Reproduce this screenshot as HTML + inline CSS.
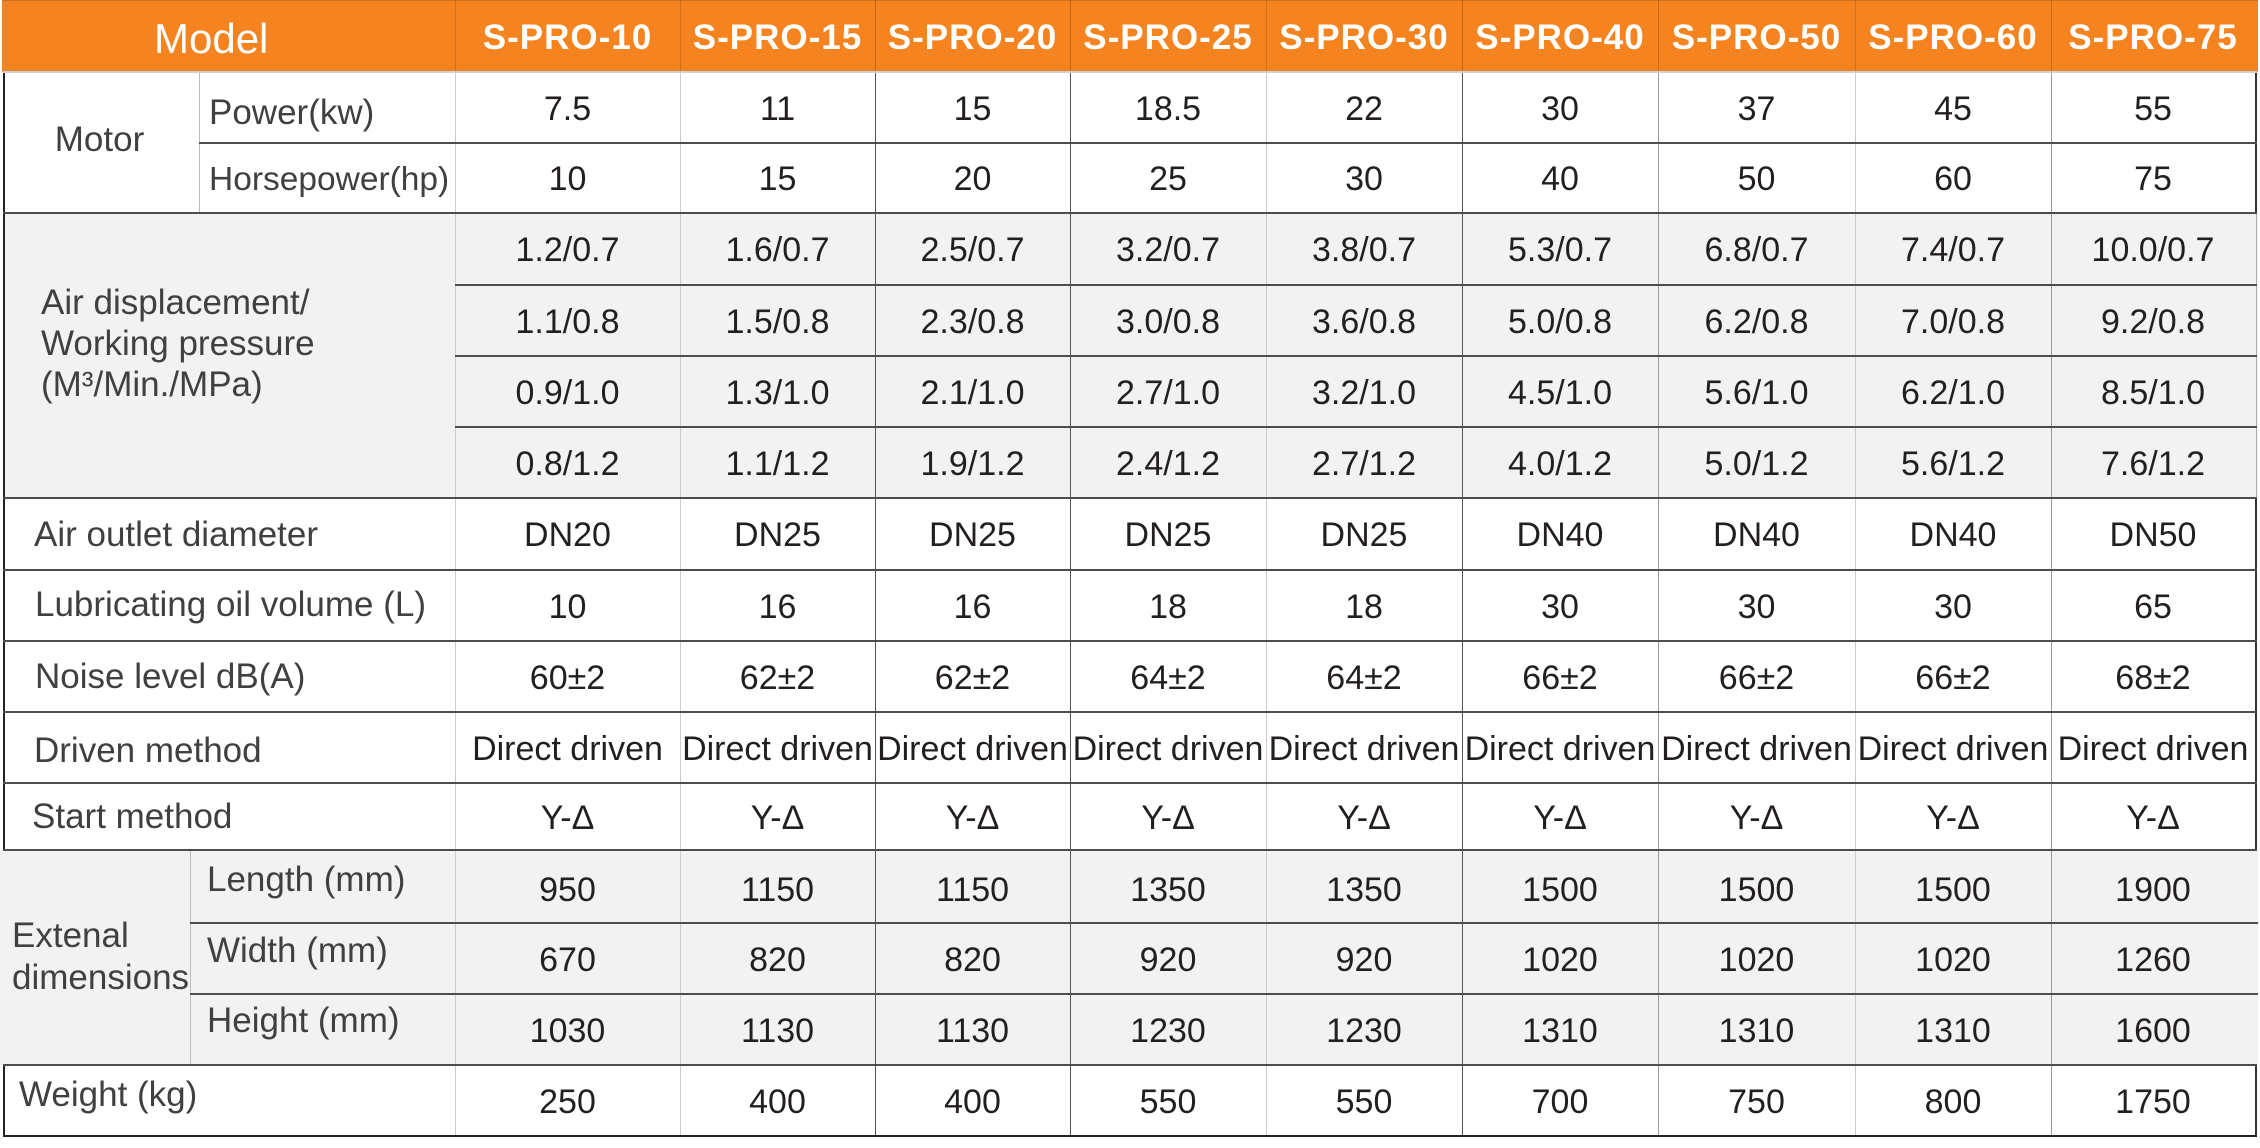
<!DOCTYPE html>
<html>
<head>
<meta charset="utf-8">
<style>
  html,body{margin:0;padding:0;background:#fff;}
  body{width:2260px;height:1148px;position:relative;overflow:hidden;font-family:"Liberation Sans",Arial,sans-serif;}
  .abs{position:absolute;}
  .bg{position:absolute;}
  .h{position:absolute;height:2px;background:#4d4d4d;}
  .v{position:absolute;width:1px;}
  .r{position:absolute;left:455px;display:flex;font-size:34px;color:#231f20;white-space:nowrap;}
  .r span{display:block;text-align:center;}
  .r span:nth-child(1){width:225px}
  .r span:nth-child(2){width:195px}
  .r span:nth-child(3){width:195px}
  .r span:nth-child(4){width:196px}
  .r span:nth-child(5){width:196px}
  .r span:nth-child(6){width:196px}
  .r span:nth-child(7){width:197px}
  .r span:nth-child(8){width:196px}
  .r span:nth-child(9){width:204px}
  .hd{font-weight:bold;color:#fff;font-size:35px;letter-spacing:1px;}
  .lb{position:absolute;font-size:35px;line-height:41px;color:#404040;white-space:nowrap;}
</style>
</head>
<body>
<!-- backgrounds -->
<div class="bg" style="left:2px;top:0;width:2256px;height:72px;background:#F5831F;border-top:1px solid #d2701a;box-sizing:border-box;"></div>
<div class="bg" style="left:3px;top:213px;width:2255px;height:285px;background:#F2F2F2;"></div>
<div class="bg" style="left:0;top:850px;width:2258px;height:215px;background:#F2F2F2;"></div>

<!-- header vertical lines -->
<div class="v" style="left:455px;top:0;height:72px;background:rgba(110,50,0,0.25)"></div>
<div class="v" style="left:680px;top:0;height:72px;background:rgba(110,50,0,0.25)"></div>
<div class="v" style="left:875px;top:0;height:72px;background:rgba(110,50,0,0.35)"></div>
<div class="v" style="left:1070px;top:0;height:72px;background:rgba(110,50,0,0.35)"></div>
<div class="v" style="left:1266px;top:0;height:72px;background:rgba(110,50,0,0.25)"></div>
<div class="v" style="left:1462px;top:0;height:72px;background:rgba(110,50,0,0.35)"></div>
<div class="v" style="left:1658px;top:0;height:72px;background:rgba(110,50,0,0.3)"></div>
<div class="v" style="left:1855px;top:0;height:72px;background:rgba(110,50,0,0.25)"></div>
<div class="v" style="left:2051px;top:0;height:72px;background:rgba(110,50,0,0.3)"></div>

<!-- body vertical lines -->
<div class="v" style="left:199px;top:72px;height:141px;background:#bdbdbd"></div>
<div class="v" style="left:190px;top:850px;height:215px;background:#bdbdbd"></div>
<div class="v" style="left:455px;top:72px;height:1064px;background:#cccccc"></div>
<div class="v" style="left:680px;top:72px;height:1064px;background:#cccccc"></div>
<div class="v" style="left:875px;top:72px;height:1064px;background:#555"></div>
<div class="v" style="left:1070px;top:72px;height:1064px;background:#555"></div>
<div class="v" style="left:1266px;top:72px;height:1064px;background:#cccccc"></div>
<div class="v" style="left:1462px;top:72px;height:1064px;background:#555"></div>
<div class="v" style="left:1658px;top:72px;height:1064px;background:#999"></div>
<div class="v" style="left:1855px;top:72px;height:1064px;background:#cccccc"></div>
<div class="v" style="left:2051px;top:72px;height:1064px;background:#999"></div>

<!-- outer borders -->
<div class="abs" style="left:3px;top:72px;width:2px;height:778px;background:#222"></div>
<div class="abs" style="left:3px;top:1065px;width:2px;height:72px;background:#222"></div>
<div class="abs" style="left:2255px;top:72px;width:2px;height:141px;background:#333"></div>
<div class="abs" style="left:2256px;top:213px;width:1px;height:285px;background:#aaa"></div>
<div class="abs" style="left:2255px;top:498px;width:2px;height:352px;background:#333"></div>
<div class="abs" style="left:2255px;top:1065px;width:2px;height:72px;background:#333"></div>

<!-- horizontal lines -->
<div class="h" style="left:3px;top:71px;width:2254px;background:#cfcfcf"></div>
<div class="h" style="left:199px;top:142px;width:2058px;"></div>
<div class="h" style="left:3px;top:212px;width:2254px;"></div>
<div class="h" style="left:455px;top:284px;width:1802px;"></div>
<div class="h" style="left:455px;top:355px;width:1802px;"></div>
<div class="h" style="left:455px;top:426px;width:1802px;"></div>
<div class="h" style="left:3px;top:497px;width:2254px;"></div>
<div class="h" style="left:3px;top:569px;width:2254px;"></div>
<div class="h" style="left:3px;top:640px;width:2254px;"></div>
<div class="h" style="left:3px;top:711px;width:2254px;"></div>
<div class="h" style="left:3px;top:782px;width:2254px;"></div>
<div class="h" style="left:3px;top:849px;width:2254px;"></div>
<div class="h" style="left:190px;top:922px;width:2068px;"></div>
<div class="h" style="left:190px;top:993px;width:2068px;"></div>
<div class="h" style="left:3px;top:1064px;width:2254px;"></div>
<div class="h" style="left:3px;top:1135px;width:2254px;background:#222"></div>

<!-- header text -->
<div class="abs" style="left:154px;top:18px;font-size:42px;line-height:42px;color:#fff;">Model</div>
<div class="r hd" style="top:0;height:72px;line-height:75px;"><span>S-PRO-10</span><span>S-PRO-15</span><span>S-PRO-20</span><span>S-PRO-25</span><span>S-PRO-30</span><span>S-PRO-40</span><span>S-PRO-50</span><span>S-PRO-60</span><span>S-PRO-75</span></div>

<!-- labels -->
<div class="lb" style="left:0;width:199px;text-align:center;top:119px;">Motor</div>
<div class="lb" style="left:209px;top:92px;">Power(kw)</div>
<div class="lb" style="left:209px;top:159px;font-size:33.5px;">Horsepower(hp)</div>
<div class="lb" style="left:41px;top:282px;">Air displacement/<br>Working pressure<br>(M³/Min./MPa)</div>
<div class="lb" style="left:34px;top:514px;">Air outlet diameter</div>
<div class="lb" style="left:35px;top:584px;">Lubricating oil volume (L)</div>
<div class="lb" style="left:35px;top:656px;">Noise level dB(A)</div>
<div class="lb" style="left:34px;top:730px;">Driven method</div>
<div class="lb" style="left:32px;top:796px;">Start method</div>
<div class="lb" style="left:12px;top:915px;line-height:42px;">Extenal<br>dimensions</div>
<div class="lb" style="left:207px;top:859px;">Length (mm)</div>
<div class="lb" style="left:207px;top:930px;">Width (mm)</div>
<div class="lb" style="left:207px;top:1000px;">Height (mm)</div>
<div class="lb" style="left:19px;top:1074px;">Weight (kg)</div>

<!-- data rows -->
<div class="r" style="top:72px;height:71px;line-height:74px;"><span>7.5</span><span>11</span><span>15</span><span>18.5</span><span>22</span><span>30</span><span>37</span><span>45</span><span>55</span></div>
<div class="r" style="top:143px;height:70px;line-height:73px;"><span>10</span><span>15</span><span>20</span><span>25</span><span>30</span><span>40</span><span>50</span><span>60</span><span>75</span></div>
<div class="r" style="top:213px;height:72px;line-height:75px;"><span>1.2/0.7</span><span>1.6/0.7</span><span>2.5/0.7</span><span>3.2/0.7</span><span>3.8/0.7</span><span>5.3/0.7</span><span>6.8/0.7</span><span>7.4/0.7</span><span>10.0/0.7</span></div>
<div class="r" style="top:285px;height:71px;line-height:74px;"><span>1.1/0.8</span><span>1.5/0.8</span><span>2.3/0.8</span><span>3.0/0.8</span><span>3.6/0.8</span><span>5.0/0.8</span><span>6.2/0.8</span><span>7.0/0.8</span><span>9.2/0.8</span></div>
<div class="r" style="top:356px;height:71px;line-height:74px;"><span>0.9/1.0</span><span>1.3/1.0</span><span>2.1/1.0</span><span>2.7/1.0</span><span>3.2/1.0</span><span>4.5/1.0</span><span>5.6/1.0</span><span>6.2/1.0</span><span>8.5/1.0</span></div>
<div class="r" style="top:427px;height:71px;line-height:74px;"><span>0.8/1.2</span><span>1.1/1.2</span><span>1.9/1.2</span><span>2.4/1.2</span><span>2.7/1.2</span><span>4.0/1.2</span><span>5.0/1.2</span><span>5.6/1.2</span><span>7.6/1.2</span></div>
<div class="r" style="top:498px;height:72px;line-height:75px;"><span>DN20</span><span>DN25</span><span>DN25</span><span>DN25</span><span>DN25</span><span>DN40</span><span>DN40</span><span>DN40</span><span>DN50</span></div>
<div class="r" style="top:570px;height:71px;line-height:74px;"><span>10</span><span>16</span><span>16</span><span>18</span><span>18</span><span>30</span><span>30</span><span>30</span><span>65</span></div>
<div class="r" style="top:641px;height:71px;line-height:74px;"><span>60±2</span><span>62±2</span><span>62±2</span><span>64±2</span><span>64±2</span><span>66±2</span><span>66±2</span><span>66±2</span><span>68±2</span></div>
<div class="r" style="top:712px;height:71px;line-height:74px;"><span>Direct driven</span><span>Direct driven</span><span>Direct driven</span><span>Direct driven</span><span>Direct driven</span><span>Direct driven</span><span>Direct driven</span><span>Direct driven</span><span>Direct driven</span></div>
<div class="r" style="top:783px;height:67px;line-height:70px;"><span>Y-Δ</span><span>Y-Δ</span><span>Y-Δ</span><span>Y-Δ</span><span>Y-Δ</span><span>Y-Δ</span><span>Y-Δ</span><span>Y-Δ</span><span>Y-Δ</span></div>
<div class="r" style="top:850px;height:73px;line-height:80px;"><span>950</span><span>1150</span><span>1150</span><span>1350</span><span>1350</span><span>1500</span><span>1500</span><span>1500</span><span>1900</span></div>
<div class="r" style="top:923px;height:71px;line-height:74px;"><span>670</span><span>820</span><span>820</span><span>920</span><span>920</span><span>1020</span><span>1020</span><span>1020</span><span>1260</span></div>
<div class="r" style="top:994px;height:71px;line-height:74px;"><span>1030</span><span>1130</span><span>1130</span><span>1230</span><span>1230</span><span>1310</span><span>1310</span><span>1310</span><span>1600</span></div>
<div class="r" style="top:1065px;height:71px;line-height:75px;"><span>250</span><span>400</span><span>400</span><span>550</span><span>550</span><span>700</span><span>750</span><span>800</span><span>1750</span></div>
</body>
</html>
